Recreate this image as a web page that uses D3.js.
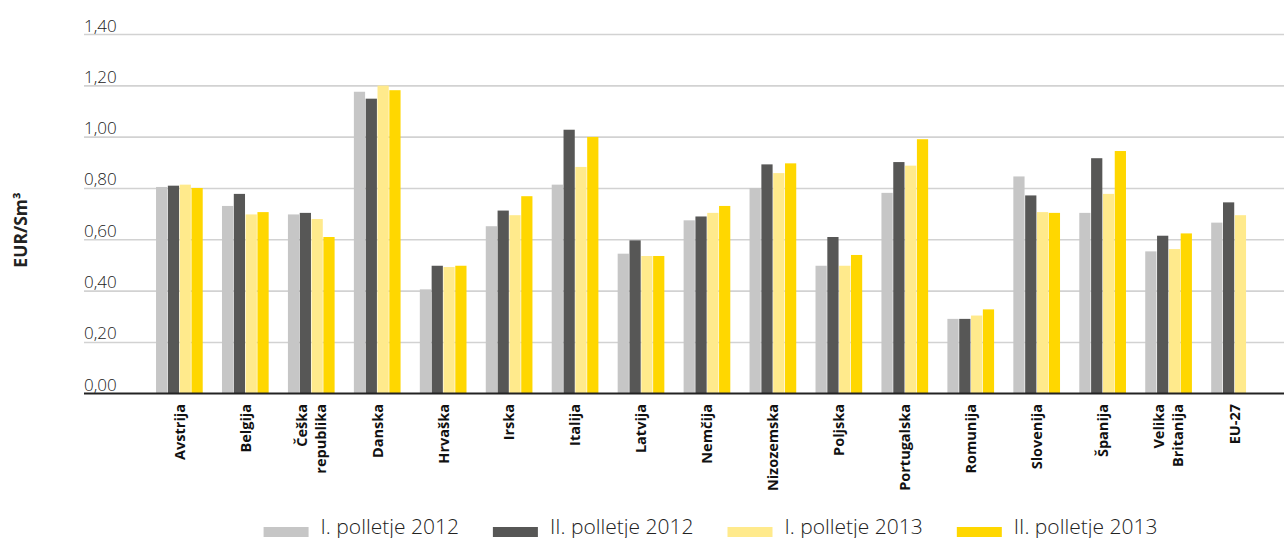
<!DOCTYPE html>
<html>
<head>
<meta charset="utf-8">
<script src="https://cdn.jsdelivr.net/npm/d3@7"></script>
<style>
  html, body { margin: 0; padding: 0; background: #fff; }
  svg { display: block; }
</style>
</head>
<body>
<svg id="chart" width="1284" height="538"></svg>
<script>
const categories = ["Avstrija","Belgija","Češka\nrepublika","Danska","Hrvaška","Irska","Italija","Latvija","Nemčija","Nizozemska","Poljska","Portugalska","Romunija","Slovenija","Španija","Velika\nBritanija","EU-27"];
const seriesNames = ["I. polletje 2012","II. polletje 2012","I. polletje 2013","II. polletje 2013"];
const seriesColors = ["#c6c6c6","#575756","#ffea8c","#ffd700"];
const h1_2012 = [0.804,0.730,0.697,1.175,0.405,0.651,0.813,0.544,0.674,0.800,0.497,0.781,0.290,0.845,0.703,0.553,0.665];
const h2_2012 = [0.809,0.777,0.703,1.148,0.497,0.712,1.027,0.596,0.689,0.892,0.609,0.901,0.290,0.771,0.916,0.614,0.744];
const h1_2013 = [0.813,0.697,0.679,1.199,0.492,0.694,0.882,0.535,0.703,0.858,0.497,0.887,0.303,0.706,0.777,0.562,0.694];
const h2_2013 = [0.800,0.706,0.609,1.181,0.497,0.768,0.999,0.535,0.730,0.896,0.539,0.990,0.327,0.703,0.944,0.623,null];
const yTicks = [0,0.2,0.4,0.6,0.8,1.0,1.2,1.4];
const yTitle = "EUR/Sm³";

const allSeries = [h1_2012, h2_2012, h1_2013, h2_2013];
const svg = d3.select("#chart");
const lightFont = "'Open Sans', 'Noto Sans', sans-serif";
const boldFont = "'Open Sans', 'Noto Sans', sans-serif";

const y = d3.scaleLinear().domain([0, 1.4]).range([393.3, 34]);
const x = d3.scaleBand().domain(categories).range([146.7, 1267.8]).paddingInner(0.283).paddingOuter(0.1415);
const xs = d3.scaleBand().domain(d3.range(4)).range([0, x.bandwidth()]);

const loc = d3.formatLocale({decimal: ",", thousands: ".", grouping: [3], currency: ["", "€"]});
const fmt = loc.format(".2f");

// grid + y labels
const yAxis = d3.axisLeft(y).tickValues(yTicks).tickSize(-1200).tickFormat(fmt);
const gy = svg.append("g").attr("transform", "translate(84,0)").call(yAxis);
gy.select(".domain").remove();
gy.selectAll(".tick line").attr("stroke", d => d === 0 ? "#222" : "#d2d2d2").attr("stroke-width", 1.6);
gy.selectAll(".tick text")
  .attr("x", 0).attr("dy", -3).attr("y", 0)
  .attr("text-anchor", "start")
  .attr("font-family", lightFont).attr("font-weight", 300)
  .attr("font-size", 17).attr("fill", "#222");

// bars
const groups = svg.append("g").selectAll("g").data(categories).join("g")
  .attr("transform", d => `translate(${x(d)},0)`);
groups.selectAll("rect")
  .data((d, i) => allSeries.map((s, k) => ({k, v: s[i]})).filter(e => e.v != null))
  .join("rect")
  .attr("x", e => xs(e.k))
  .attr("width", xs.bandwidth() - 0.6)
  .attr("y", e => y(e.v))
  .attr("height", e => y(0) - y(e.v))
  .attr("fill", e => seriesColors[e.k]);

// baseline redraw on top
svg.append("line").attr("x1", 84).attr("x2", 1284).attr("y1", y(0)).attr("y2", y(0))
  .attr("stroke", "#222").attr("stroke-width", 1.6);

// x labels
const xl = svg.append("g").selectAll("text").data(categories).join("text")
  .attr("transform", d => `translate(${x(d) + x.bandwidth() / 2},404) rotate(-90)`)
  .attr("text-anchor", "end")
  .attr("font-family", boldFont).attr("font-weight", 700)
  .attr("font-size", 14.5).attr("fill", "#111");
xl.each(function(d) {
  const lines = d.split("\n");
  const t = d3.select(this);
  const lh = 19;
  lines.forEach((ln, i) => {
    t.append("tspan").attr("x", 0)
      .attr("y", (i - (lines.length - 1) / 2) * lh)
      .attr("dy", "0.35em").text(ln);
  });
});

// y title
svg.append("text")
  .attr("transform", "translate(21,230) rotate(-90)")
  .attr("text-anchor", "middle").attr("dy", "0.35em")
  .attr("font-family", boldFont).attr("font-weight", 700)
  .attr("font-size", 17.5).attr("fill", "#222")
  .text(yTitle);

// legend
const lg = svg.append("g");
let cx = 0;
const items = [];
seriesNames.forEach((name, k) => {
  const g = lg.append("g");
  g.append("rect").attr("x", 0).attr("y", 527).attr("width", 45).attr("height", 10).attr("fill", seriesColors[k]);
  const t = g.append("text").attr("x", 57).attr("y", 533.5)
    .attr("font-family", lightFont).attr("font-weight", 300)
    .attr("font-size", 21).attr("fill", "#222").text(name);
  items.push({g, w: 57 + t.node().getComputedTextLength()});
});
const gap = 34;
const total = d3.sum(items, d => d.w) + gap * (items.length - 1);
cx = 710.5 - total / 2;
items.forEach(it => { it.g.attr("transform", `translate(${cx},0)`); cx += it.w + gap; });
</script>
</body>
</html>
